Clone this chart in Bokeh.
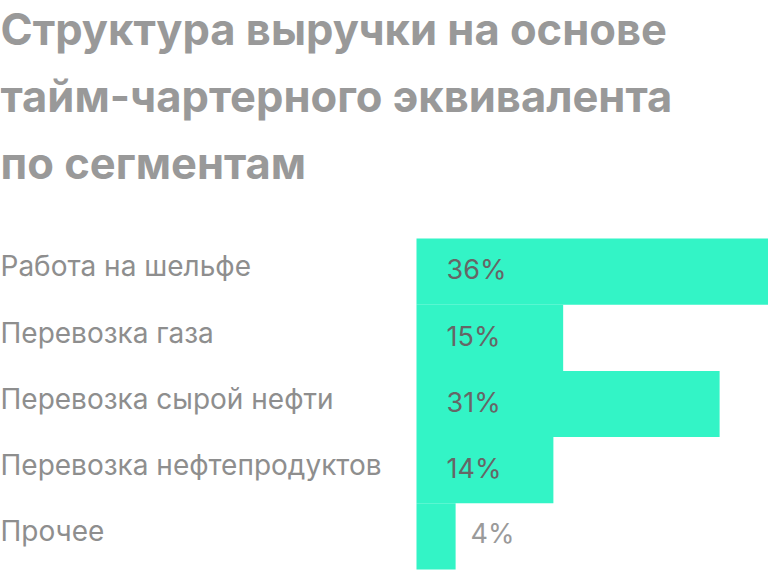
from bokeh.plotting import figure
from bokeh.models import ColumnDataSource, Range1d, Label
from bokeh.core.properties import value
from bokeh.embed import file_html
from bokeh.resources import INLINE

title_lines = ["Структура выручки на основе", "тайм-чартерного эквивалента", "по сегментам"]
categories = ["Работа на шельфе", "Перевозка газа", "Перевозка сырой нефти",
              "Перевозка нефтепродуктов", "Прочее"]
shares = [36, 15, 31, 14, 4]
share_labels = ["36%", "15%", "31%", "14%", "4%"]

W, H = 768, 572
BAR_LEFT_PX = 416
ROW_PX = 66.2
BARS_TOP_PX = 238
FONT = "Inter"
LBL_FS = 28
PCT_FS = 27
TTL_FS = 43.5
SHIFT = 0.4  # empirical downward shift of rendered text, in font-size units

px_per_unit = (W - BAR_LEFT_PX) / max(shares)
x_start = -BAR_LEFT_PX / px_per_unit
y_end = -BARS_TOP_PX / ROW_PX
y_start = (H - BARS_TOP_PX) / ROW_PX

p = figure(width=W, height=H, output_backend="svg", toolbar_location=None,
           x_range=Range1d(x_start, max(shares)), y_range=Range1d(y_start, y_end),
           min_border=0, min_border_left=0, min_border_right=0,
           min_border_top=0, min_border_bottom=0)
p.axis.visible = False
p.grid.visible = False
p.outline_line_color = None
p.background_fill_color = "white"
p.border_fill_color = "white"

idx = list(range(len(categories)))
ys = [i + 0.5 for i in idx]
src = ColumnDataSource(dict(y=ys, v=shares, cat=categories, lab=share_labels,
                            x0=[x_start] * len(idx), z=[0] * len(idx)))
p.hbar(y="y", left="z", right="v", height=1.0, source=src,
       fill_color="#33F4C6", line_color=None)

p.text(x="x0", y="y", text="cat", source=src, text_font=value(FONT),
       text_font_size=f"{LBL_FS}px", text_color="#8e8e8e", text_baseline="alphabetic",
       text_align="left", x_offset=0, y_offset=6 - SHIFT * LBL_FS)

THRESH = 8
inside = ColumnDataSource(dict(
    y=[y for y, v in zip(ys, shares) if v >= THRESH],
    x=[0 for v in shares if v >= THRESH],
    lab=[l for l, v in zip(share_labels, shares) if v >= THRESH]))
outside = ColumnDataSource(dict(
    y=[y for y, v in zip(ys, shares) if v < THRESH],
    x=[v for v in shares if v < THRESH],
    lab=[l for l, v in zip(share_labels, shares) if v < THRESH]))
p.text(x="x", y="y", text="lab", source=inside, text_font=value(FONT),
       text_font_size=f"{PCT_FS}px", text_color="#666666", text_baseline="alphabetic",
       x_offset=30, y_offset=9 - SHIFT * PCT_FS)
p.text(x="x", y="y", text="lab", source=outside, text_font=value(FONT),
       text_font_size=f"{PCT_FS}px", text_color="#9a9a9a", text_baseline="alphabetic",
       x_offset=15, y_offset=8 - SHIFT * PCT_FS)

baselines = [46, 113, 180]
for line, b in zip(title_lines, baselines):
    p.add_layout(Label(x=0, y=H - (b - SHIFT * TTL_FS), x_units="screen", y_units="screen",
                       text=line, text_font=FONT, text_font_size=f"{TTL_FS}px",
                       text_font_style="bold", text_color="#999999",
                       text_baseline="alphabetic"))

open("out.html", "w").write(file_html(p, INLINE))
